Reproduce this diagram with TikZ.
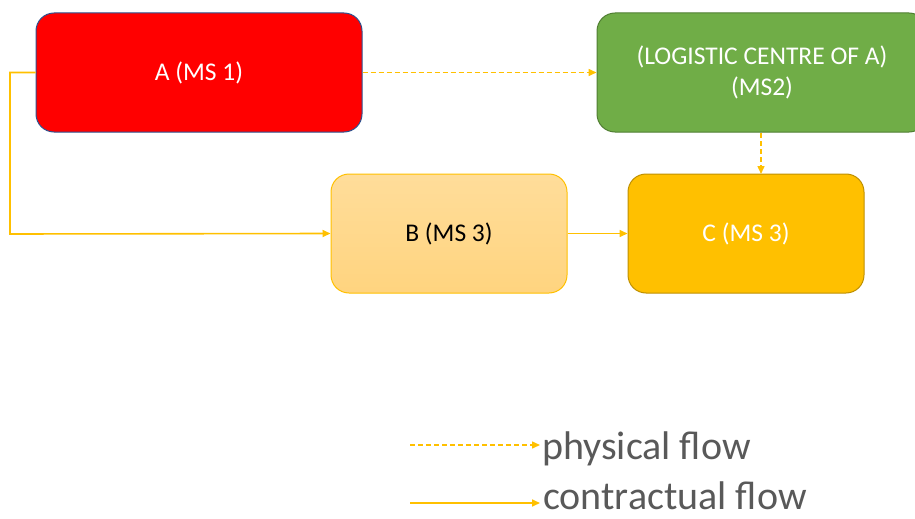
\documentclass[tikz,border=0pt]{standalone}
\usepackage{fontspec}
\setmainfont{Carlito}
\usetikzlibrary{arrows.meta}
\definecolor{flow}{HTML}{FFC000}
\definecolor{redA}{HTML}{FF0000}
\definecolor{blueB}{HTML}{2F528F}
\definecolor{greenL}{HTML}{70AD47}
\definecolor{greenD}{HTML}{507E32}
\definecolor{goldC}{HTML}{FFC000}
\definecolor{goldD}{HTML}{BF9000}
\definecolor{lightT}{HTML}{FFDD9A}
\definecolor{lightBot}{HTML}{FFD47F}
\definecolor{legendgray}{HTML}{595959}
\tikzset{
  box/.style={rectangle, rounded corners=18pt, line width=1pt, inner sep=0pt, align=center, font=\fontsize{25.5}{31}\selectfont},
  phys/.style={draw=flow, line width=1.5pt, dashed, dash pattern=on 5pt off 3pt, -{Triangle[length=8pt,width=7pt]}},
  contr/.style={draw=flow, line width=1.6pt, -{Triangle[length=8pt,width=7pt]}},
  legtext/.style={anchor=base west, inner sep=0pt, text=legendgray, font=\fontsize{40}{46}\selectfont}
}
\begin{document}
\begin{tikzpicture}[x=1pt,y=-1pt]
\useasboundingbox (0,0) rectangle (915,519);
\node[box, draw=blueB, fill=redA, text=white, minimum width=326pt, minimum height=119pt] (A) at (199,72.5) {A (MS 1)};
\node[box, draw=greenD, fill=greenL, text=white, minimum width=330pt, minimum height=119pt] (L) at (762,72.5) {(LOGISTIC CENTRE OF A)\\(MS2)};
\node[box, draw=flow, top color=lightT, bottom color=lightBot, text=black, minimum width=236pt, minimum height=119pt] (B) at (449,233.5) {B (MS 3)};
\node[box, draw=goldD, fill=goldC, text=white, minimum width=236pt, minimum height=119pt] (C) at (746,233.5) {C (MS 3)};
\draw[phys] (A.east) -- (L.west);
\coordinate (lt) at (761,133);
\coordinate (ct) at (761,174);
\draw[phys] (lt) -- (ct);
\coordinate (k1) at (10,72.5);
\coordinate (k2) at (10,234);
\draw[contr] (A.west) -- (k1) -- (k2) -- (B.west);
\draw[contr] (B.east) -- (C.west);
\coordinate (p1) at (410,445);
\coordinate (p2) at (540,445);
\coordinate (c1) at (410,503);
\coordinate (c2) at (540,503);
\draw[phys] (p1) -- (p2);
\draw[contr] (c1) -- (c2);
\node[legtext] (pt) at (542,459) {physical flow};
\node[legtext] (ct2) at (543,509) {contractual flow};
\end{tikzpicture}
\end{document}
